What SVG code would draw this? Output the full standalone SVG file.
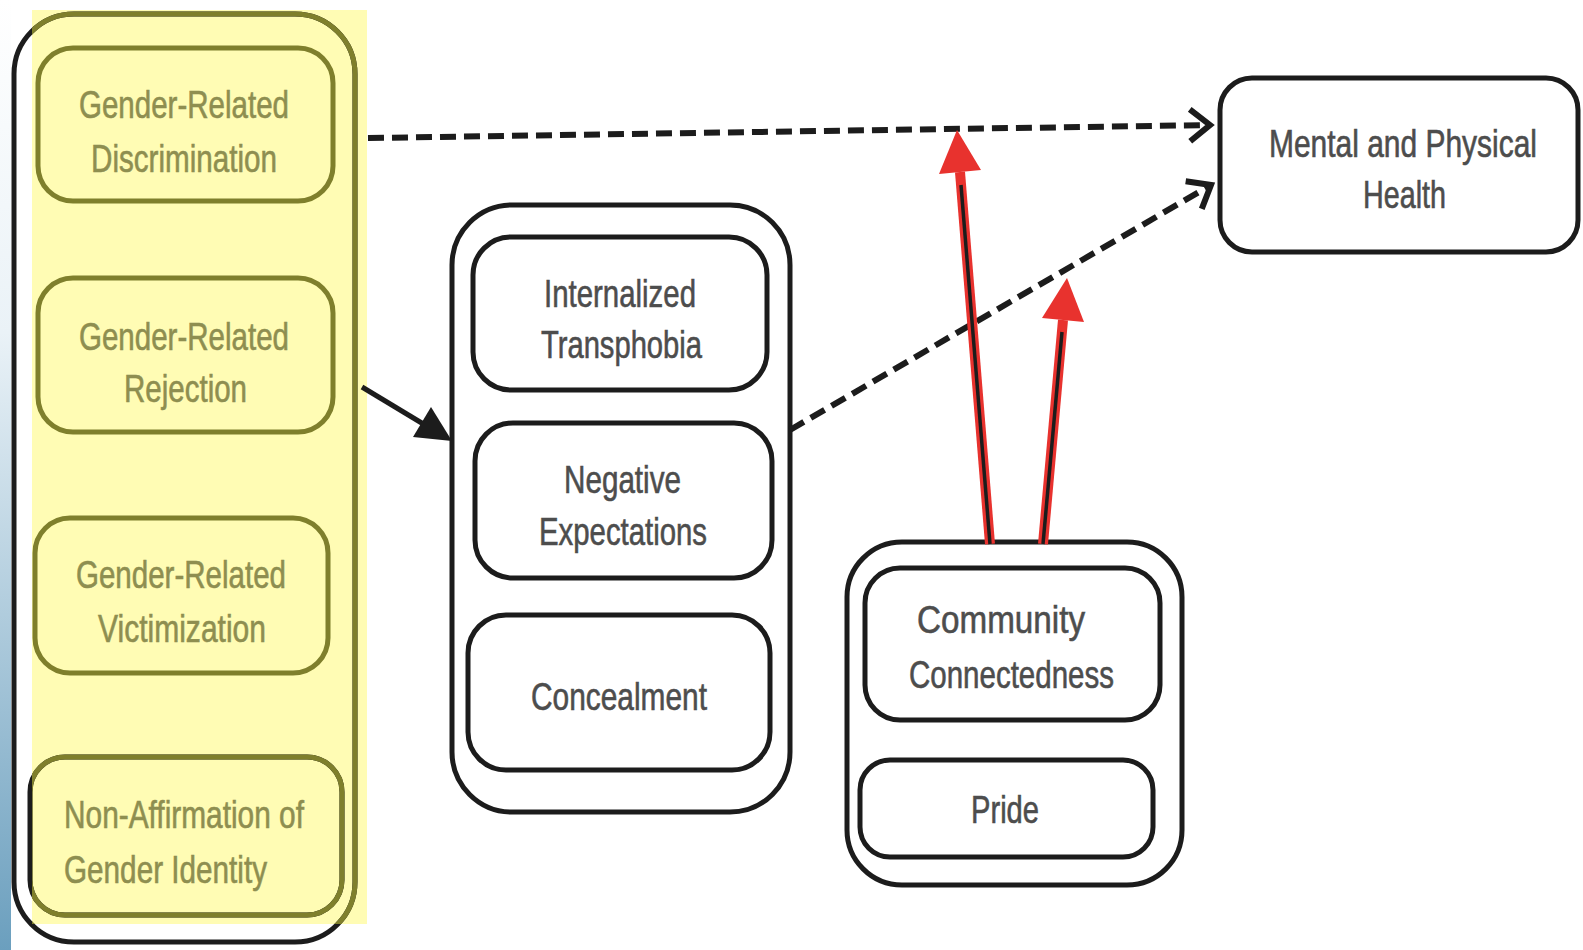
<svg xmlns="http://www.w3.org/2000/svg" width="1583" height="950" viewBox="0 0 1583 950">
<style>
  .box{fill:none;stroke:#1c1c1c;stroke-width:5}
  .obox{fill:none;stroke:#7f7f2c;stroke-width:5}
  .t{font-family:"Liberation Sans",Arial,sans-serif;font-size:38px;fill:#4d4d4d;stroke:#4d4d4d;stroke-width:0.6;text-anchor:middle}
  .ts{font-family:"Liberation Sans",Arial,sans-serif;font-size:30px;fill:#4d4d4d;stroke:#4d4d4d;stroke-width:0.5;text-anchor:middle}
  .ot{font-family:"Liberation Sans",Arial,sans-serif;font-size:38px;fill:#8e8e50;stroke:#8e8e50;stroke-width:0.6;text-anchor:middle}
  .dash{fill:none;stroke:#1c1c1c;stroke-width:6;stroke-dasharray:16 8}
  .solid{fill:none;stroke:#1c1c1c;stroke-width:5}
  .redhalo{fill:none;stroke:#e8322e;stroke-width:10}
  .redcore{fill:none;stroke:#1c1c1c;stroke-width:3.5}
  .redhead{fill:#e8322e}
  .blackhead{fill:#1c1c1c}
</style>
<defs>
  <linearGradient id="edge" x1="0" y1="0" x2="0" y2="1">
    <stop offset="0" stop-color="#ffffff"/>
    <stop offset="0.35" stop-color="#eaf2f7"/>
    <stop offset="1" stop-color="#6b9fbe"/>
  </linearGradient>
  <clipPath id="hl"><rect x="32" y="10" width="335" height="914"/></clipPath>
  <marker id="chev" markerUnits="userSpaceOnUse" viewBox="0 0 26 36" refX="23" refY="18" markerWidth="26" markerHeight="36" orient="auto" overflow="visible">
    <path d="M3,2 L23,18 L3,34" fill="none" stroke="#1c1c1c" stroke-width="6" stroke-linejoin="miter"/>
  </marker>
</defs>
<rect x="0" y="0" width="1583" height="950" fill="#ffffff"/>
<rect x="0" y="0" width="11" height="950" fill="url(#edge)"/>

<g id="stressors">
  <rect x="32" y="10" width="335" height="914" fill="#fffcb4"/>
  <rect class="box" x="14" y="14" width="341" height="928" rx="60"/>
  <rect class="obox" x="14" y="14" width="341" height="928" rx="60" clip-path="url(#hl)"/>
</g>
<g id="discrimination">
  <rect class="obox" x="38" y="48" width="295" height="153" rx="35"/>
  <text class="ot" x="184" y="118" textLength="210" lengthAdjust="spacingAndGlyphs">Gender-Related</text>
  <text class="ot" x="184" y="172" textLength="186" lengthAdjust="spacingAndGlyphs">Discrimination</text>
</g>
<g id="rejection">
  <rect class="obox" x="38" y="278" width="295" height="154" rx="35"/>
  <text class="ot" x="184" y="350" textLength="210" lengthAdjust="spacingAndGlyphs">Gender-Related</text>
  <text class="ot" x="185.5" y="402" textLength="123" lengthAdjust="spacingAndGlyphs">Rejection</text>
</g>
<g id="victimization">
  <rect class="obox" x="35" y="518" width="293" height="155" rx="35"/>
  <text class="ot" x="181" y="588" textLength="210" lengthAdjust="spacingAndGlyphs">Gender-Related</text>
  <text class="ot" x="182" y="642" textLength="168" lengthAdjust="spacingAndGlyphs">Victimization</text>
</g>
<g id="non-affirmation">
  <rect class="box" x="30" y="757" width="312" height="158" rx="35"/>
  <rect class="obox" x="30" y="757" width="312" height="158" rx="35" clip-path="url(#hl)"/>
  <text class="ot" x="184" y="828" textLength="240" lengthAdjust="spacingAndGlyphs">Non-Affirmation of</text>
  <text class="ot" x="165.5" y="883" textLength="203" lengthAdjust="spacingAndGlyphs">Gender Identity</text>
</g>

<g id="proximal">
  <rect class="box" x="452" y="205" width="338" height="607" rx="60"/>
</g>
<g id="internalized-transphobia">
  <rect class="box" x="473" y="237" width="294" height="153" rx="38"/>
  <text class="t" x="620" y="307" textLength="152" lengthAdjust="spacingAndGlyphs">Internalized</text>
  <text class="t" x="621.5" y="358" textLength="161" lengthAdjust="spacingAndGlyphs">Transphobia</text>
</g>
<g id="negative-expectations">
  <rect class="box" x="475" y="423" width="297" height="155" rx="38"/>
  <text class="t" x="622.5" y="493" textLength="117" lengthAdjust="spacingAndGlyphs">Negative</text>
  <text class="t" x="623" y="545" textLength="168" lengthAdjust="spacingAndGlyphs">Expectations</text>
</g>
<g id="concealment">
  <rect class="box" x="468" y="615" width="302" height="155" rx="38"/>
  <text class="t" x="619" y="710" textLength="176" lengthAdjust="spacingAndGlyphs">Concealment</text>
</g>

<g id="resilience">
  <rect class="box" x="847" y="542" width="335" height="343" rx="55"/>
</g>
<g id="community-connectedness">
  <rect class="box" x="865" y="568" width="295" height="152" rx="35"/>
  <text class="t" x="1001" y="633" textLength="168" lengthAdjust="spacingAndGlyphs">Community</text>
  <text class="t" x="1011.5" y="688" textLength="205" lengthAdjust="spacingAndGlyphs">Connectedness</text>
</g>
<g id="pride">
  <rect class="box" x="860" y="760" width="293" height="97" rx="30"/>
  <text class="t" x="1005" y="823" textLength="68" lengthAdjust="spacingAndGlyphs">Pride</text>
</g>

<g id="health">
  <rect class="box" x="1220" y="78" width="358" height="174" rx="32"/>
  <text class="ts" transform="translate(1403,157) scale(1,1.267)" x="0" y="0" textLength="268" lengthAdjust="spacingAndGlyphs">Mental and Physical</text>
  <text class="ts" transform="translate(1404.5,208) scale(1,1.267)" x="0" y="0" textLength="83" lengthAdjust="spacingAndGlyphs">Health</text>
</g>

<g id="connectors">
  <path class="dash" d="M368,138 L1210,125" marker-end="url(#chev)"/>
  <path class="dash" d="M790,430 L1211,185" marker-end="url(#chev)"/>
  <path class="solid" d="M362,387 L425,425"/>
  <polygon class="blackhead" points="452,441 413,437 431,407"/>
  <path class="redhalo" d="M990,544 L960,172"/>
  <path class="redcore" d="M990,544 L961,185"/>
  <polygon class="redhead" points="957,130 981,170 939,174"/>
  <path class="redhalo" d="M1043,544 L1063,320"/>
  <path class="redcore" d="M1043,544 L1062,332"/>
  <polygon class="redhead" points="1067,278 1084,322 1042,318"/>
</g>
</svg>
